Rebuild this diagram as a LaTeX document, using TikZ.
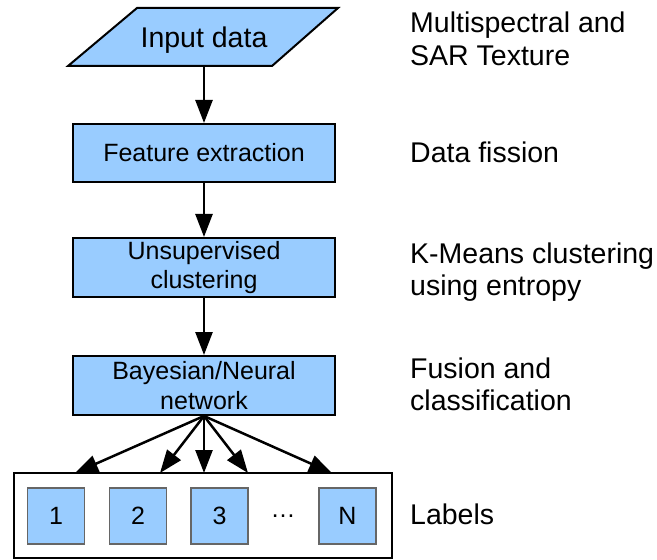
\documentclass[tikz,border=0pt]{standalone}
\usepackage{fontspec}
\setmainfont{Liberation Sans}
\usetikzlibrary{arrows.meta}
\definecolor{skyblue}{HTML}{99CCFF}
\definecolor{cellgray}{HTML}{666666}
\newcommand\boxfont{\fontsize{25bp}{29.5bp}\selectfont}
\newcommand\notefont{\fontsize{28.5bp}{32.5bp}\selectfont}
\begin{document}
\begin{tikzpicture}[x=1bp,y=-1bp,
  stepbox/.style={draw=black, line width=2bp, fill=skyblue,
    minimum width=262bp, minimum height=58bp, inner sep=0pt,
    align=center, font=\boxfont},
  cell/.style={draw=cellgray, line width=1.5bp, fill=skyblue,
    minimum width=57bp, minimum height=56bp, inner sep=0pt, font=\boxfont},
  note/.style={anchor=north west, inner sep=0pt, align=left, font=\notefont},
  flow/.style={line width=2.5bp, -{Triangle[length=23bp,width=17bp]}}
]
\useasboundingbox (0,0) rectangle (657,560);

% input parallelogram
\draw[line width=2bp, fill=skyblue] (137,8) -- (338,8) -- (272,66) -- (68,66) -- cycle;
\node[minimum height=58bp, inner sep=0pt, font=\notefont] (input) at (204,37) {};
\node[font=\notefont, inner sep=0pt] (inputtext) at (204,40) {Input data};

% processing steps
\node[stepbox] (feat) at (204,153) {Feature extraction};
\node[stepbox, minimum height=59bp] (clust) at (204,267.5) {Unsupervised\\clustering};
\node[stepbox, minimum height=59bp] (bayes) at (204,385.5) {Bayesian/Neural\\network};

% label container and classes
\node[draw=black, line width=2bp, fill=white, minimum width=378bp,
      minimum height=85bp, inner sep=0pt] (labels) at (203,515.5) {};
\node[cell] (c1) at (56,516) {1};
\node[cell] (c2) at (138,516) {2};
\node[cell] (c3) at (219.5,516) {3};
\node[font=\boxfont, inner sep=0pt] (dots) at (283,516) {…};
\node[cell] (cN) at (347.5,516) {N};

% arrow targets on the container's top edge
\coordinate (t1) at (75,473);
\coordinate (t2) at (160,473);
\coordinate (t3) at (204,473);
\coordinate (t4) at (248,473);
\coordinate (t5) at (332,473);

% connectors
\draw[flow] (input.south) -- (feat.north);
\draw[flow] (feat.south) -- (clust.north);
\draw[flow] (clust.south) -- (bayes.north);
\foreach \t in {t1,t2,t3,t4,t5}
  \draw[flow] (bayes.south) -- (\t);

% stage descriptions
\node[note] (n1) at (410,12) {Multispectral and\\SAR Texture};
\node[note] (n2) at (410,141.5) {Data fission};
\node[note] (n3) at (410,242.5) {K-Means clustering\\using entropy};
\node[note] (n4) at (410,357.5) {Fusion and\\classification};
\node[note] (n5) at (410,504) {Labels};
\end{tikzpicture}
\end{document}
